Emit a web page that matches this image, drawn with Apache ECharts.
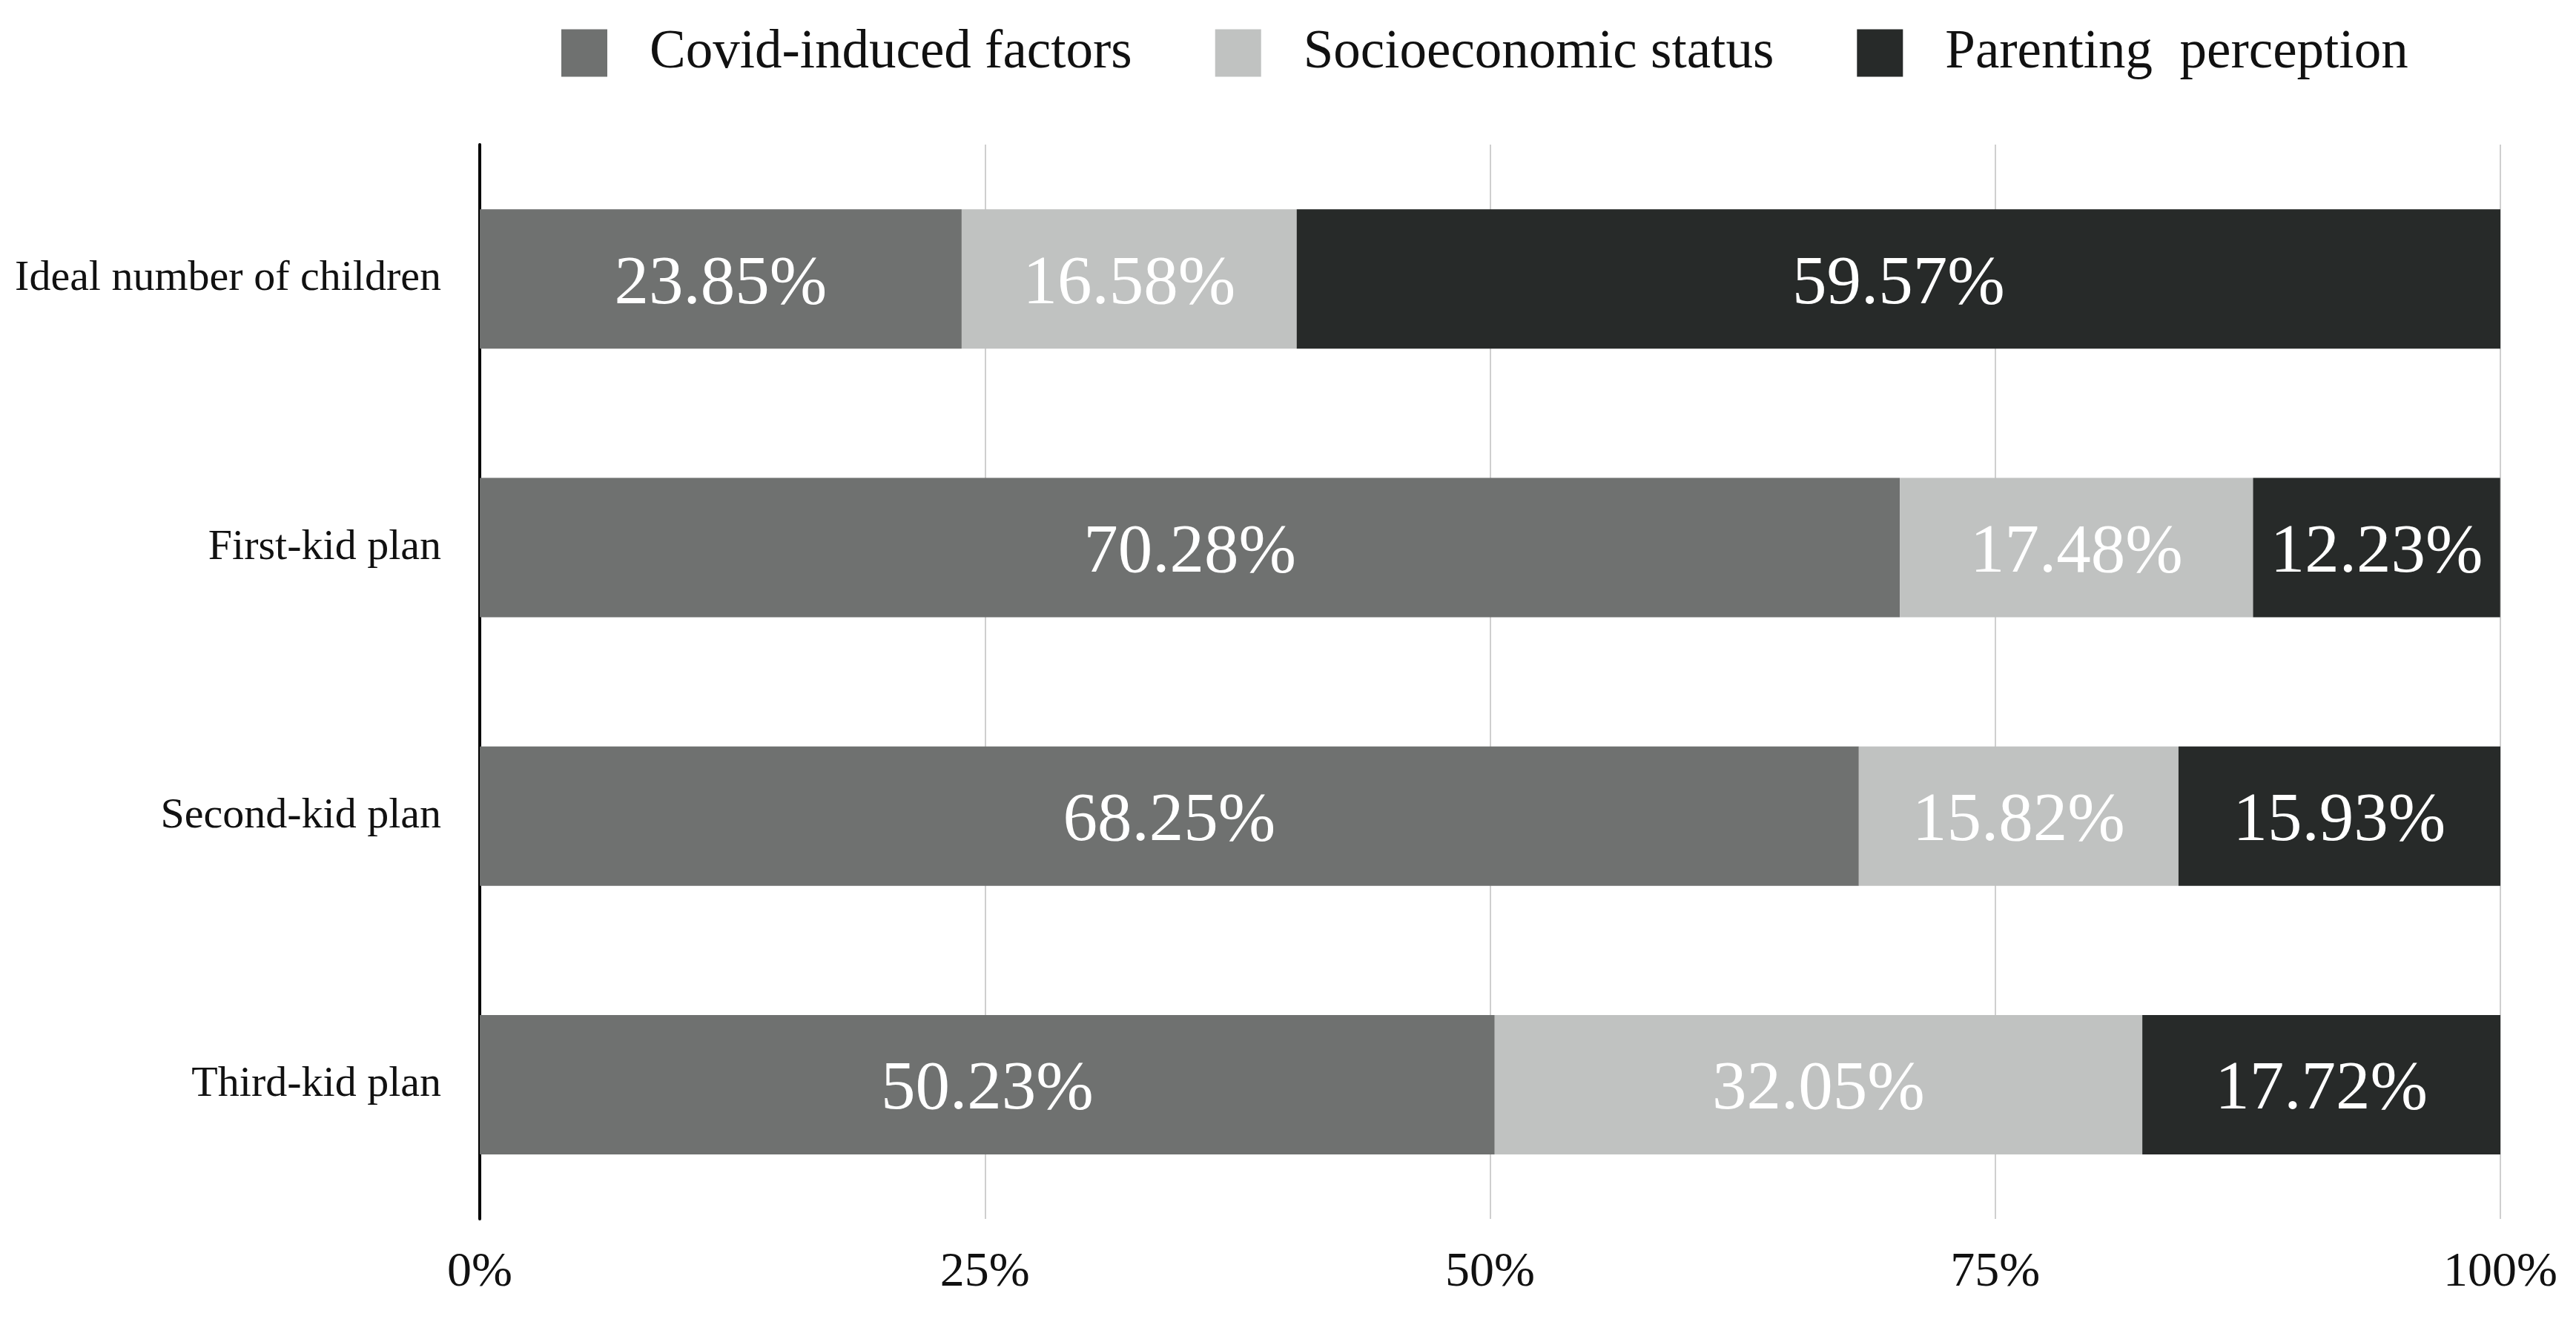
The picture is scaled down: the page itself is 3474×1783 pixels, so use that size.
<!DOCTYPE html>
<html>
<head>
<meta charset="utf-8">
<script src="https://cdn.jsdelivr.net/npm/echarts@6/dist/echarts.min.js"></script>
<style>html,body{margin:0;padding:0;background:#fff}#c{width:3474px;height:1783px}</style>
</head>
<body>
<div id="c"></div>
<script>
const categories = ['Ideal number of children', 'First-kid plan', 'Second-kid plan', 'Third-kid plan'];
const seriesNames = ['Covid-induced factors', 'Socioeconomic status', 'Parenting  perception'];
const covid = [23.85, 70.28, 68.25, 50.23];
const socio = [16.58, 17.48, 15.82, 32.05];
const parenting = [59.57, 12.23, 15.93, 17.72];
const xTicks = [0, 25, 50, 75, 100];
const colors = ['#6f7170', '#c0c2c1', '#272a29'];

const font = '"Liberation Serif", "Times New Roman", serif';
const chart = echarts.init(document.getElementById('c'));
const mk = (name, data, i) => ({
  name, type: 'bar', stack: 'total', data, barWidth: 188,
  itemStyle: { color: colors[i] },
  label: { show: true, position: 'inside', color: '#fff', fontFamily: font, fontSize: 93,
           offset: [0, 8],
           formatter: p => p.value.toFixed(2) + '%' }
});
chart.setOption({
  animation: false,
  backgroundColor: '#fff',
  legend: {
    top: 30, left: 752, itemWidth: 62, itemHeight: 64, itemGap: 112,
    icon: 'rect',
    textStyle: { fontFamily: font, fontSize: 73, color: '#111', padding: [0, 0, 0, 52] },
    data: seriesNames
  },
  grid: { left: 647, right: 102, top: 195, bottom: 139 },
  xAxis: {
    type: 'value', min: 0, max: 100, interval: 25,
    axisLine: { show: false }, axisTick: { show: false },
    splitLine: { show: true, lineStyle: { color: '#cfcfcf', width: 2 } },
    axisLabel: { fontFamily: font, fontSize: 66, color: '#111', margin: 40,
                 formatter: v => xTicks.includes(v) ? v + '%' : '' }
  },
  yAxis: {
    type: 'category', data: categories, inverse: true,
    axisLine: { show: true, lineStyle: { color: '#000', width: 4 } },
    axisTick: { show: false },
    axisLabel: { fontFamily: font, fontSize: 58, color: '#111', margin: 52 }
  },
  series: [mk(seriesNames[0], covid, 0), mk(seriesNames[1], socio, 1), mk(seriesNames[2], parenting, 2)]
});
</script>
</body>
</html>
